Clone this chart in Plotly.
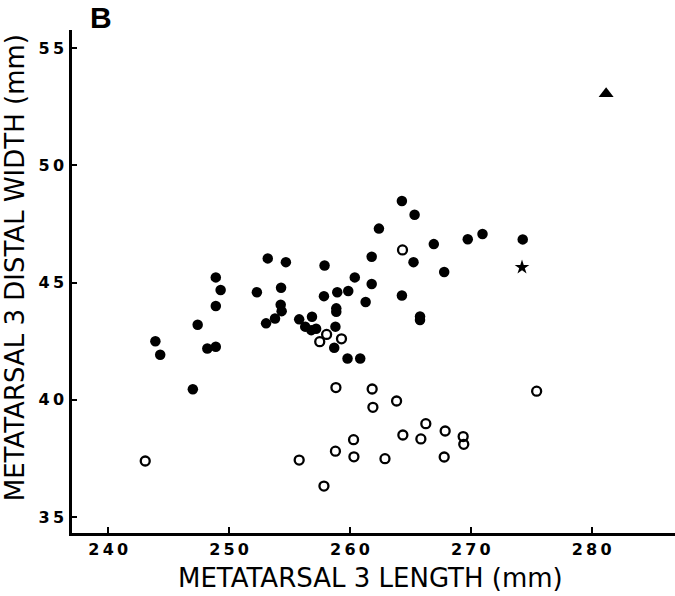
import plotly.graph_objects as go

# Filled circles
filled_x = [243.9, 244.3, 247.4, 247.0, 248.2, 248.9, 248.9, 248.9, 249.3, 252.3,
            253.2, 254.7, 257.9, 254.3, 257.85, 258.95, 259.86, 261.3, 260.4, 261.8,
            261.8, 262.4, 254.27, 254.35, 253.8, 253.06, 256.86, 258.87, 258.87, 255.8,
            256.3, 256.8, 257.2, 258.8, 258.7, 259.8, 260.85, 264.3, 265.35, 266.94,
            269.75, 270.97, 274.3, 265.26, 267.8, 264.3, 265.8, 265.8]
filled_y = [42.5, 41.92, 43.2, 40.45, 42.19, 42.26, 44.0, 45.22, 44.68, 44.59,
            46.03, 45.87, 45.73, 44.78, 44.42, 44.59, 44.64, 44.17, 45.22, 44.94,
            46.1, 47.3, 44.05, 43.78, 43.47, 43.26, 43.54, 43.9, 43.75, 43.43,
            43.12, 42.97, 43.03, 43.12, 42.22, 41.76, 41.76, 48.48, 47.89, 46.64,
            46.85, 47.07, 46.84, 45.87, 45.45, 44.45, 43.55, 43.4]

# Open circles
open_x = [243.06, 255.8, 257.85, 258.8, 258.84, 260.3, 260.33, 261.84, 261.9, 262.9,
          263.86, 264.38, 265.87, 266.28, 267.8, 267.88, 269.37, 269.42, 275.45, 264.35,
          258.07, 257.5, 259.3]
open_y = [37.39, 37.43, 36.32, 37.81, 40.52, 38.3, 37.57, 40.46, 39.68, 37.49,
          39.95, 38.5, 38.33, 38.98, 37.56, 38.67, 38.43, 38.1, 40.37, 46.39,
          42.79, 42.48, 42.6]

star_x = [274.24]
star_y = [45.65]
tri_x = [281.2]
tri_y = [53.05]

x_ticks = [240, 250, 260, 270, 280]
y_ticks = [35, 40, 45, 50, 55]


def spaced(v):
    return "\u2009".join(str(v))


fig = go.Figure()
fig.add_trace(go.Scatter(x=filled_x, y=filled_y, mode="markers",
                         marker=dict(symbol="circle", size=10.5, color="black",
                                     line=dict(width=0)), showlegend=False))
fig.add_trace(go.Scatter(x=open_x, y=open_y, mode="markers",
                         marker=dict(symbol="circle-open", size=9, color="black",
                                     line=dict(width=2.3, color="black")), showlegend=False))
fig.add_trace(go.Scatter(x=star_x, y=star_y, mode="markers",
                         marker=dict(symbol="star", size=11, color="black"), showlegend=False))
fig.add_trace(go.Scatter(x=tri_x, y=tri_y, mode="markers",
                         marker=dict(symbol="triangle-up", size=13, color="black"), showlegend=False))

tickfont = dict(family="DejaVu Sans", size=16, color="black", weight="bold")
fig.update_xaxes(range=[237.0, 286.9], tickvals=x_ticks, ticktext=[spaced(v) for v in x_ticks],
                 showgrid=False, zeroline=False, showline=True, linecolor="black", linewidth=2.5,
                 ticks="inside", ticklen=6, tickwidth=2, tickcolor="black", tickfont=tickfont)
fig.update_yaxes(range=[34.32, 55.77], tickvals=y_ticks, ticktext=[spaced(v) for v in y_ticks],
                 showgrid=False, zeroline=False, showline=True, linecolor="black", linewidth=2.5,
                 ticks="inside", ticklen=5, tickwidth=2, tickcolor="black", tickfont=tickfont,
                 ticklabelstandoff=2)

titlefont = dict(family="DejaVu Sans", size=26, color="black")
fig.update_layout(
    width=675, height=596,
    margin=dict(l=72, r=0, t=30, b=63),
    paper_bgcolor="white", plot_bgcolor="white",
    annotations=[
        dict(text="METATARSAL 3 LENGTH (mm)", x=0.495, y=-0.09, xref="paper", yref="paper",
             showarrow=False, xanchor="center", yanchor="middle", font=titlefont),
        dict(text="METATARSAL 3 DISTAL WIDTH (mm)", x=-0.094, y=0.527, xref="paper", yref="paper",
             showarrow=False, xanchor="center", yanchor="middle", textangle=-90, font=titlefont),
        dict(text="<b>B</b>", x=0.048, y=1.024, xref="paper", yref="paper",
             showarrow=False, xanchor="center", yanchor="middle",
             font=dict(family="Liberation Sans", size=30, color="black")),
    ],
)
fig.write_html("out.html", config={"displayModeBar": False},
               post_script="document.body.style.margin='0px';document.body.style.padding='0px';")
